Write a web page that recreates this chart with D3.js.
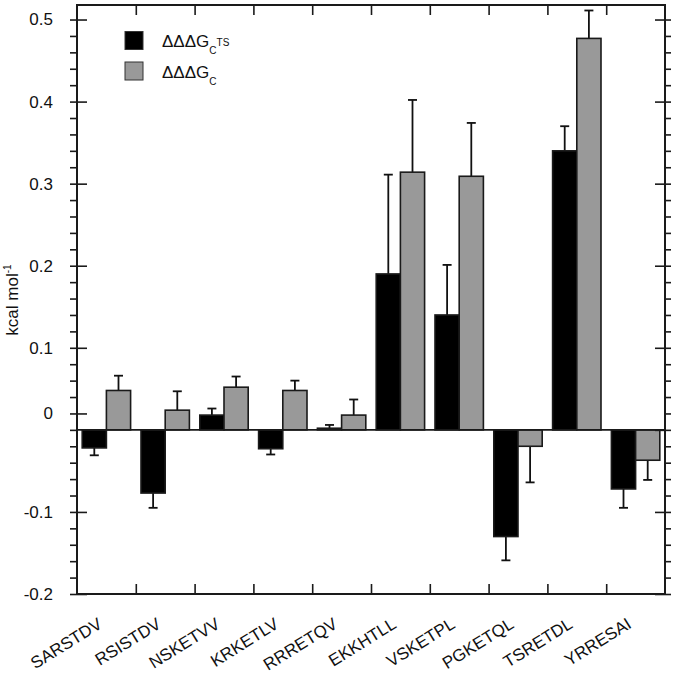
<!DOCTYPE html>
<html>
<head>
<meta charset="utf-8">
<script src="https://cdn.jsdelivr.net/npm/d3@7"></script>
<style>
  body { margin: 0; background: #fff; }
  text { font-family: "Liberation Sans", Arial, sans-serif; }
</style>
</head>
<body>
<svg id="chart" width="675" height="673"></svg>
<script>
// peptide categories
const peptides = ["SARSTDV", "RSISTDV", "NSKETVV", "KRKETLV", "RRRETQV",
                  "EKKHTLL", "VSKETPL", "PGKETQL", "TSRETDL", "YRRESAI"];

// ddG_C^TS (black) and its error
const ddgTS    = [-0.022, -0.077, 0.018, -0.023, 0.002, 0.190, 0.140, -0.130, 0.340, -0.072];
const ddgTSErr = [0.009, 0.018, 0.008, 0.007, 0.004, 0.121, 0.061, 0.029, 0.030, 0.023];

// ddG_C (gray) and its error
const ddgC     = [0.048, 0.024, 0.052, 0.048, 0.018, 0.314, 0.309, -0.020, 0.477, -0.037];
const ddgCErr  = [0.018, 0.023, 0.013, 0.012, 0.019, 0.088, 0.065, 0.044, 0.034, 0.024];

// y axis labels (the "0" label sits on the 0.02 tick in the original figure)
const yTickValues = [0.5, 0.4, 0.3, 0.2, 0.1, 0.02, -0.1, -0.2];
const yTickLabels = ["0.5", "0.4", "0.3", "0.2", "0.1", "0", "-0.1", "-0.2"];

const series = ["ts", "c"];
const seriesColor = {ts: "#000000", c: "#999999"};

const mLeft = 77, mRight = 665, mTop = 5, mBottom = 594;

const svg = d3.select("#chart");

const x0 = d3.scaleBand()
    .domain(peptides)
    .range([mLeft, mRight])
    .padding(0);

const x1 = d3.scaleBand()
    .domain(series)
    .range([0, x0.bandwidth()])
    .paddingInner(0)
    .paddingOuter(0.215);

const y = d3.scaleLinear()
    .domain([-0.2, 0.5177])
    .range([mBottom, mTop]);

const rows = peptides.map(function(p, i) {
    return [
        {pep: p, key: "ts", v: ddgTS[i], e: ddgTSErr[i]},
        {pep: p, key: "c",  v: ddgC[i],  e: ddgCErr[i]}
    ];
}).flat();

// error bars (one sided, away from zero)
const errG = svg.append("g");
rows.forEach(function(d) {
    const cx = x0(d.pep) + x1(d.key) + x1.bandwidth() / 2;
    const tip = d.v >= 0 ? d.v + d.e : d.v - d.e;
    errG.append("line")
        .attr("x1", cx).attr("x2", cx)
        .attr("y1", y(d.v)).attr("y2", y(tip))
        .attr("stroke", "#111").attr("stroke-width", 1.8);
    errG.append("line")
        .attr("x1", cx - 4.5).attr("x2", cx + 4.5)
        .attr("y1", y(tip)).attr("y2", y(tip))
        .attr("stroke", "#111").attr("stroke-width", 1.8);
});

// bars
svg.append("g")
    .selectAll("rect")
    .data(rows)
    .join("rect")
    .attr("x", d => x0(d.pep) + x1(d.key))
    .attr("width", x1.bandwidth())
    .attr("y", d => y(Math.max(0, d.v)))
    .attr("height", d => Math.abs(y(d.v) - y(0)))
    .attr("fill", d => seriesColor[d.key])
    .attr("stroke", "#1a1a1a")
    .attr("stroke-width", 1.6);

// zero line
svg.append("line")
    .attr("x1", mLeft).attr("x2", mRight)
    .attr("y1", y(0)).attr("y2", y(0))
    .attr("stroke", "#1a1a1a").attr("stroke-width", 1.8);

// axes
const minorTicks = d3.range(-0.2, 0.52, 0.02).map(v => Math.round(v * 100) / 100);
const majorTicks = [0.5, 0.4, 0.3, 0.2, 0.1, 0, -0.1, -0.2];

function styleAxis(g) {
    g.select(".domain").remove();
    g.selectAll(".tick line").attr("stroke", "#1a1a1a").attr("stroke-width", 1.6);
}

// left: minor ticks outward
svg.append("g")
    .attr("transform", "translate(" + mLeft + ",0)")
    .call(d3.axisLeft(y).tickValues(minorTicks).tickSize(7).tickFormat(""))
    .call(styleAxis);

// left: labelled ticks inward
svg.append("g")
    .attr("transform", "translate(" + mLeft + ",0)")
    .call(d3.axisLeft(y).tickValues(yTickValues).tickSize(-10).tickPadding(24)
        .tickFormat((d, i) => yTickLabels[i]))
    .call(styleAxis)
    .call(g => g.selectAll(".tick text")
        .attr("font-size", 17)
        .attr("font-family", "Liberation Sans, Arial, sans-serif")
        .attr("fill", "#111"));

// right: minor outward, major inward
svg.append("g")
    .attr("transform", "translate(" + mRight + ",0)")
    .call(d3.axisRight(y).tickValues(minorTicks).tickSize(6).tickFormat(""))
    .call(styleAxis);
svg.append("g")
    .attr("transform", "translate(" + mRight + ",0)")
    .call(d3.axisRight(y).tickValues(majorTicks).tickSize(-10).tickFormat(""))
    .call(styleAxis);

// top and bottom: ticks at category boundaries
const boundaries = peptides.slice(1).map(p => x0(p));
const xb = d3.scaleLinear().domain([mLeft, mRight]).range([mLeft, mRight]);
svg.append("g")
    .attr("transform", "translate(0," + mTop + ")")
    .call(d3.axisTop(xb).tickValues(boundaries).tickSize(-10).tickFormat(""))
    .call(styleAxis);
svg.append("g")
    .attr("transform", "translate(0," + mBottom + ")")
    .call(d3.axisBottom(xb).tickValues(boundaries).tickSize(-10).tickFormat(""))
    .call(styleAxis);

// frame
svg.append("rect")
    .attr("x", mLeft).attr("y", mTop)
    .attr("width", mRight - mLeft).attr("height", mBottom - mTop)
    .attr("fill", "none")
    .attr("stroke", "#1a1a1a")
    .attr("stroke-width", 2);

// x labels rotated (slanted upward to the right)
peptides.forEach(function(p) {
    const lx = x0(p) + x0.bandwidth() / 2 - 3;
    svg.append("text")
        .text(p)
        .attr("text-anchor", "end")
        .attr("font-size", 17)
        .attr("fill", "#111")
        .style("transform", "translate(" + lx + "px,627px) rotate(-32deg)");
});

// y axis title
const yTitle = svg.append("text")
    .attr("text-anchor", "middle")
    .attr("font-size", 17)
    .attr("fill", "#111")
    .attr("transform", "translate(18,300) rotate(-90)");
yTitle.append("tspan").text("kcal mol");
yTitle.append("tspan").text("-1").attr("font-size", 10).attr("dy", -7);

// legend
const legendItems = [
    {key: "ts", y: 31.5, sub: "C", sup: "TS"},
    {key: "c",  y: 62,   sub: "C", sup: ""}
];
legendItems.forEach(function(l) {
    svg.append("rect")
        .attr("x", 125).attr("y", l.y)
        .attr("width", 18).attr("height", 18)
        .attr("fill", seriesColor[l.key])
        .attr("stroke", "#333").attr("stroke-width", 1);
    const t = svg.append("text")
        .attr("x", 162).attr("y", l.y + 15.5)
        .attr("font-size", 17)
        .attr("fill", "#111");
    t.append("tspan").text("\u0394\u0394\u0394G");
    t.append("tspan").text(l.sub).attr("font-size", 10).attr("dy", 7);
    if (l.sup) {
        t.append("tspan").text(l.sup).attr("font-size", 10).attr("dy", -8);
    }
});
</script>
</body>
</html>
